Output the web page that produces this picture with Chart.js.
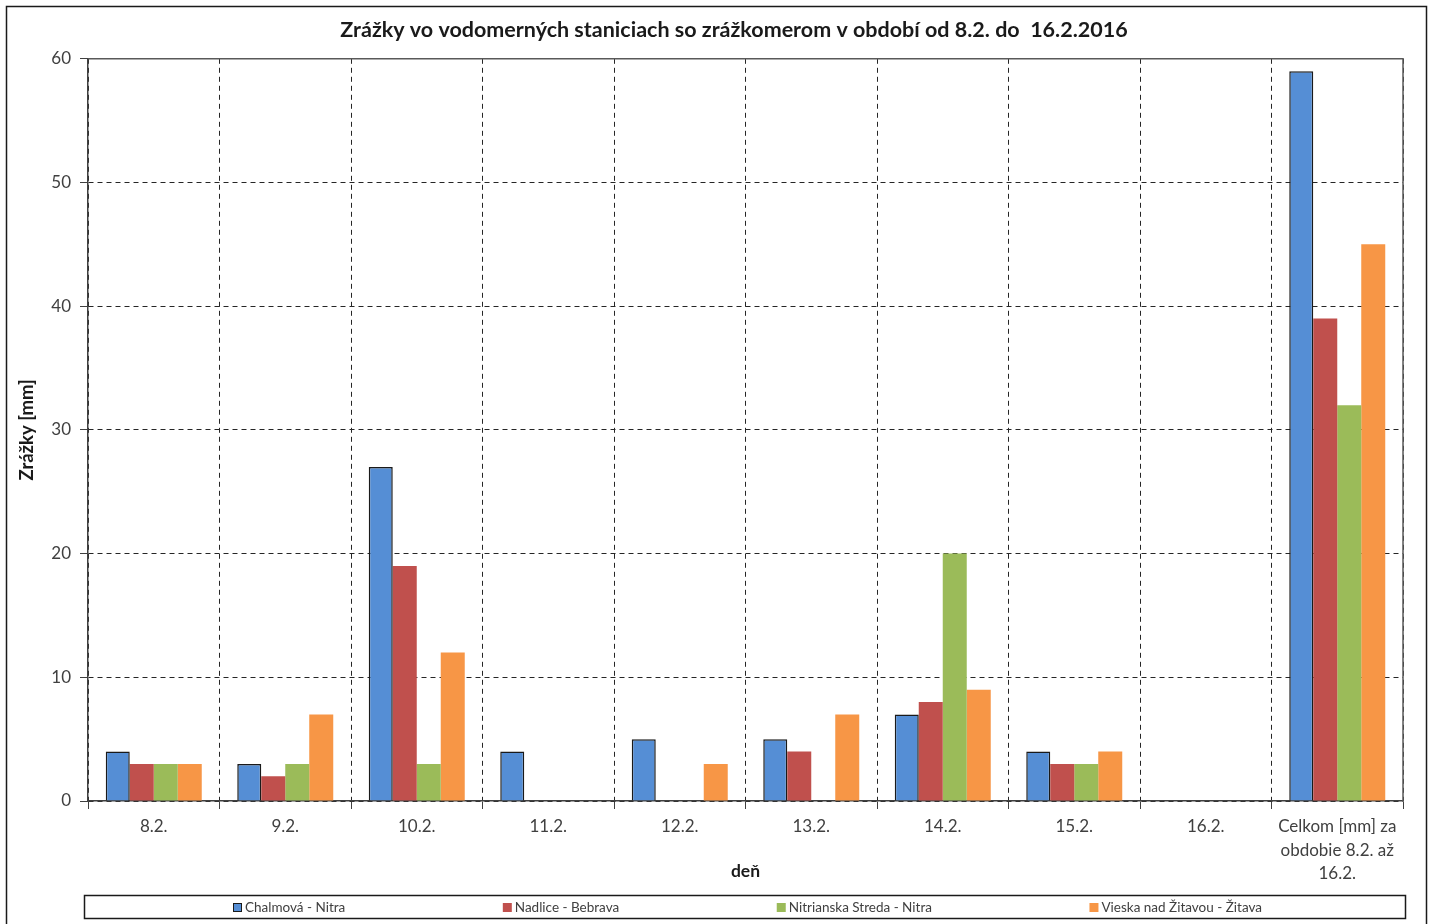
<!DOCTYPE html>
<html>
<head>
<meta charset="utf-8">
<title>Zrážky 8.2. - 16.2.2016</title>
<script src="https://cdn.jsdelivr.net/npm/chart.js@4/dist/chart.umd.min.js"></script>
<style>
  html, body { margin: 0; padding: 0; background: #fff; }
  canvas { display: block; }
</style>
</head>
<body>
<canvas id="rainChart" width="1433" height="924"></canvas>
<script>
const days = ['8.2.', '9.2.', '10.2.', '11.2.', '12.2.', '13.2.', '14.2.', '15.2.', '16.2.',
  ['Celkom [mm] za', 'obdobie 8.2. až', '16.2.']];

const chalmova   = [4, 3, 27, 4, 5, 5, 7, 4, 0, 59];
const nadlice    = [3, 2, 19, 0, 0, 4, 8, 3, 0, 39];
const nitrianska = [3, 3, 3, 0, 0, 0, 20, 3, 0, 32];
const vieska     = [3, 7, 12, 0, 3, 7, 9, 4, 0, 45];

const stationNames = ['Chalmová - Nitra', 'Nadlice - Bebrava', 'Nitrianska Streda - Nitra', 'Vieska nad Žitavou - Žitava'];
const yTicks = [0, 10, 20, 30, 40, 50, 60];

const FONT = 'Lato, "Open Sans", sans-serif';
const TEXT = '#404040';
const DASH = '#262626';

// outer frame, plot frame and a boxed legend row at the bottom
const framePlugin = {
  id: 'frame',
  afterLayout(chart) {
    // center the title over the whole frame rather than the padded box
    if (chart.titleBlock) {
      chart.titleBlock.left += 25;
      chart.titleBlock.right += 25;
    }
  },
  beforeDraw(chart) {
    const ctx = chart.ctx;
    ctx.save();
    ctx.fillStyle = '#fff';
    ctx.fillRect(0, 0, chart.width, chart.height);
    ctx.strokeStyle = '#1a1a1a';
    ctx.lineWidth = 1.5;
    ctx.strokeRect(6.5, 6.5, 1420, chart.height + 20);
    ctx.restore();
  },
  afterDraw(chart) {
    const ctx = chart.ctx;
    const a = chart.chartArea;
    ctx.save();
    ctx.strokeStyle = '#595959';
    ctx.lineWidth = 1.5;
    ctx.beginPath();
    ctx.moveTo(a.left, a.top);
    ctx.lineTo(a.right, a.top);
    ctx.lineTo(a.right, a.bottom);
    ctx.stroke();

    // legend box
    const boxTop = 895, boxH = 23;
    ctx.strokeStyle = '#1a1a1a';
    ctx.lineWidth = 1.5;
    ctx.strokeRect(84.5, boxTop + 0.5, 1321, boxH);

    // items spread over the row, equal gaps between them
    ctx.font = '13.5px ' + FONT;
    ctx.textBaseline = 'middle';
    const sw = 9, sp = 3, rowLeft = 233, rowRight = 1262;
    const items = chart.data.datasets.map(ds => ({
      ds, w: sw + sp + ctx.measureText(ds.label).width
    }));
    const used = items.reduce((s, it) => s + it.w, 0);
    const gap = (rowRight - rowLeft - used) / (items.length - 1);
    let x = rowLeft;
    const cy = boxTop + boxH / 2 + 1;
    items.forEach(it => {
      ctx.fillStyle = it.ds.backgroundColor;
      ctx.fillRect(x, cy - sw / 2, sw, sw);
      if (it.ds.borderWidth) {
        ctx.strokeStyle = it.ds.borderColor;
        ctx.lineWidth = 1;
        ctx.strokeRect(x + 0.5, cy - sw / 2 + 0.5, sw - 1, sw - 1);
      }
      ctx.fillStyle = TEXT;
      ctx.textAlign = 'left';
      ctx.fillText(it.ds.label, x + sw + sp, cy);
      x += it.w + gap;
    });
    ctx.restore();
  }
};

const seriesValues = [chalmova, nadlice, nitrianska, vieska];
const fills = ['#558ED5', '#C0504D', '#9BBB59', '#F79646'];

const datasets = seriesValues.map((vals, i) => ({
  label: stationNames[i],
  data: vals,
  backgroundColor: fills[i],
  borderColor: i === 0 ? '#1a1a1a' : fills[i],
  borderWidth: i === 0 ? 1.5 : 0,
  borderSkipped: 'bottom',
  categoryPercentage: 0.73,
  barPercentage: 1.0
}));

new Chart(document.getElementById('rainChart'), {
  type: 'bar',
  data: { labels: days, datasets: datasets },
  plugins: [framePlugin],
  options: {
    responsive: false,
    animation: false,
    layout: { padding: { left: 15, right: 30, top: 0, bottom: 33 } },
    plugins: {
      legend: { display: false },
      tooltip: { enabled: false },
      title: {
        display: true,
        text: 'Zrážky vo vodomerných staniciach so zrážkomerom v období od 8.2. do  16.2.2016',
        color: '#1a1a1a',
        font: { family: FONT, size: 21.5, weight: 'bold' },
        padding: { top: 17, bottom: 16 }
      }
    },
    scales: {
      x: {
        grid: {
          display: true,
          offset: true,
          color: DASH,
          lineWidth: 1,
          tickLength: 8,
          tickColor: '#404040',
          tickBorderDash: []
        },
        border: { display: true, color: '#404040', width: 1.5, dash: [5, 4] },
        ticks: {
          color: TEXT,
          font: { family: FONT, size: 17, lineHeight: 1.38 },
          padding: 6,
          maxRotation: 0,
          autoSkip: false
        },
        title: {
          display: true,
          text: 'deň',
          color: '#1a1a1a',
          font: { family: FONT, size: 17.5, weight: 'bold' },
          padding: { top: 0, bottom: 9 }
        },
        afterFit(scale) { scale.height = 90; }
      },
      y: {
        min: 0,
        max: 60,
        afterBuildTicks(scale) { scale.ticks = yTicks.map(v => ({ value: v })); },
        grid: {
          color: DASH,
          lineWidth: 1,
          tickLength: 8,
          tickColor: '#404040',
          tickBorderDash: []
        },
        border: { display: true, color: '#404040', width: 1.5, dash: [5, 4] },
        ticks: {
          color: TEXT,
          font: { family: FONT, size: 17 },
          padding: 9
        },
        title: {
          display: true,
          text: 'Zrážky [mm]',
          color: '#1a1a1a',
          font: { family: FONT, size: 18.5, weight: 'bold' },
          padding: { top: 1, bottom: 0 }
        },
        afterFit(scale) { scale.width = 73; }
      }
    }
  }
});
</script>
</body>
</html>
